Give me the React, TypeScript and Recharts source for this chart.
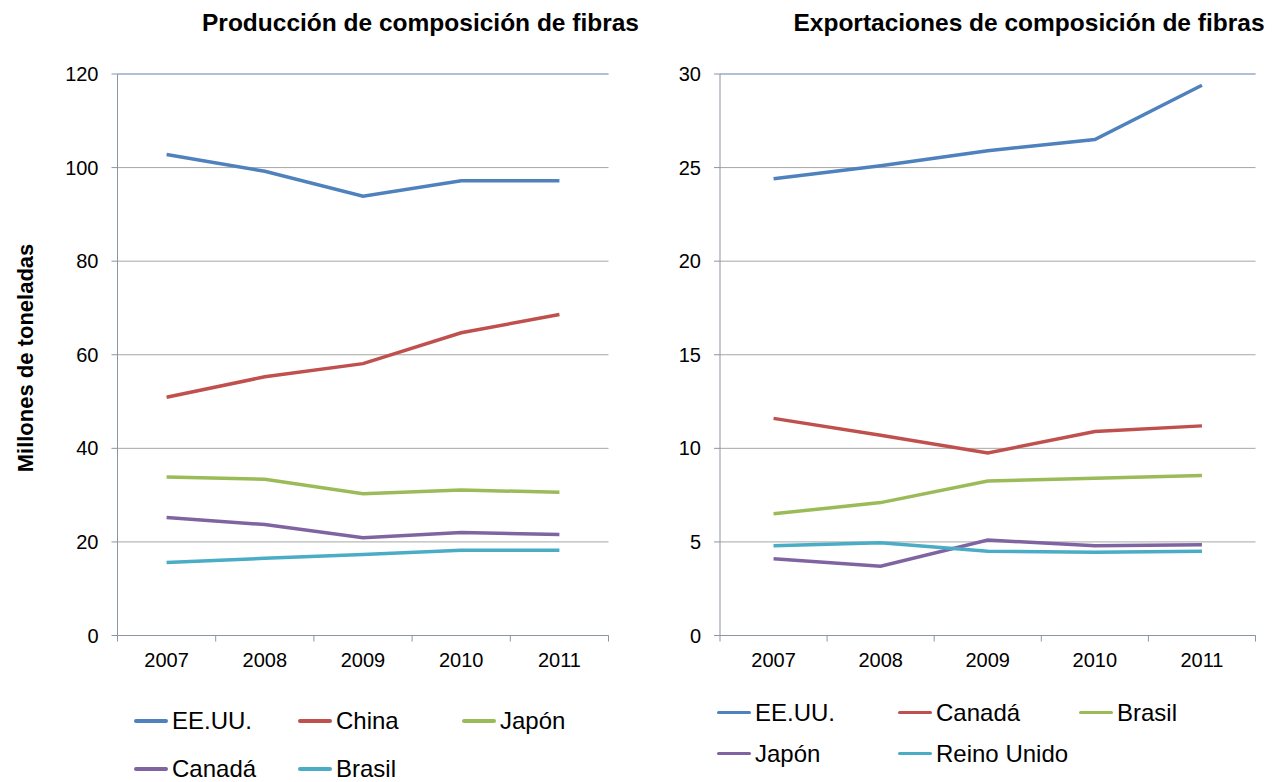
import React from 'react'
import { LineChart, Line, XAxis, YAxis, CartesianGrid, ReferenceLine } from 'recharts'

const years = ['2007', '2008', '2009', '2010', '2011']

// Producción (millones de toneladas)
const prodEEUU = [102.8, 99.2, 93.9, 97.2, 97.2]
const prodChina = [50.9, 55.3, 58.1, 64.7, 68.6]
const prodJapon = [33.9, 33.4, 30.3, 31.1, 30.6]
const prodCanada = [25.2, 23.7, 20.9, 22.0, 21.6]
const prodBrasil = [15.6, 16.5, 17.3, 18.2, 18.2]

// Exportaciones
const expEEUU = [24.4, 25.1, 25.9, 26.5, 29.4]
const expCanada = [11.6, 10.7, 9.75, 10.9, 11.2]
const expBrasil = [6.5, 7.1, 8.25, 8.4, 8.55]
const expJapon = [4.1, 3.7, 5.1, 4.8, 4.85]
const expReino = [4.8, 4.95, 4.5, 4.45, 4.5]

const prodTicks = [0, 20, 40, 60, 80, 100, 120]
const expTicks = [0, 5, 10, 15, 20, 25, 30]

const BLUE = '#4F81BD'
const RED = '#C0504D'
const GREEN = '#9BBB59'
const PURPLE = '#8064A2'
const CYAN = '#4BACC6'

const AXIS = '#8a95a5'
const GRID = '#a6a6a6'
const BORDER = '#8eaadb'
const FONT = '"Liberation Sans", Arial, sans-serif'

const prodSeries = [
  { name: 'EE.UU.', values: prodEEUU, color: BLUE },
  { name: 'China', values: prodChina, color: RED },
  { name: 'Japón', values: prodJapon, color: GREEN },
  { name: 'Canadá', values: prodCanada, color: PURPLE },
  { name: 'Brasil', values: prodBrasil, color: CYAN },
]

const expSeries = [
  { name: 'EE.UU.', values: expEEUU, color: BLUE },
  { name: 'Canadá', values: expCanada, color: RED },
  { name: 'Brasil', values: expBrasil, color: GREEN },
  { name: 'Japón', values: expJapon, color: PURPLE },
  { name: 'Reino Unido', values: expReino, color: CYAN },
]

type Series = { name: string; values: number[]; color: string }

const toRows = (series: Series[]) =>
  years.map((year, i) => {
    const row: Record<string, string | number> = { year }
    series.forEach(s => { row[s.name] = s.values[i] })
    return row
  })

function YearTick(props: any) {
  const { x, y, payload, index, band, count } = props
  return (
    <g>
      <line x1={x - band / 2} y1={y} x2={x - band / 2} y2={y + 6} stroke={AXIS} />
      {index === count - 1 && (
        <line x1={x + band / 2} y1={y} x2={x + band / 2} y2={y + 6} stroke={AXIS} />
      )}
      <text x={x} y={y + 17.5} dy="0.71em" textAnchor="middle" fontSize={20} fill="#000">
        {payload.value}
      </text>
    </g>
  )
}

interface PanelProps {
  series: Series[]
  ticks: number[]
  width: number
  marginLeft: number
  marginRight: number
}

function Panel({ series, ticks, width, marginLeft, marginRight }: PanelProps) {
  const plotW = width - marginLeft - marginRight - 60
  const band = plotW / years.length
  const top = ticks[ticks.length - 1]
  return (
    <LineChart
      width={width}
      height={690}
      data={toRows(series)}
      margin={{ top: 74, right: marginRight, left: marginLeft, bottom: 14.5 }}
    >
      <CartesianGrid vertical={false} stroke={GRID} yAxisId="l" />
      <XAxis
        dataKey="year"
        height={40}
        padding={{ left: band / 2, right: band / 2 }}
        stroke={AXIS}
        tickLine={false}
        tickSize={0}
        tickMargin={0}
        interval={0}
        tick={(p: any) => <YearTick {...p} band={band} count={years.length} />}
      />
      <YAxis
        yAxisId="l"
        width={60}
        domain={[0, top]}
        ticks={ticks}
        interval={0}
        stroke={AXIS}
        tickSize={6}
        tickMargin={13}
        tick={{ fontSize: 20, fill: '#000' }}
      />
      <YAxis
        yAxisId="r"
        orientation="right"
        width={0}
        domain={[0, top]}
        ticks={ticks}
        stroke={BORDER}
        tick={false}
        tickLine={false}
      />
      <ReferenceLine yAxisId="l" y={top} stroke={BORDER} />
      {series.map(s => (
        <Line
          key={s.name}
          yAxisId="l"
          type="linear"
          dataKey={s.name}
          stroke={s.color}
          strokeWidth={3.5}
          dot={false}
          activeDot={false}
          isAnimationActive={false}
        />
      ))}
    </LineChart>
  )
}

function LegendBlock({ series, left, top, colW, rowH }: { series: Series[]; left: number; top: number; colW: number; rowH: number }) {
  return (
    <div
      style={{
        position: 'absolute', left, top,
        display: 'grid', gridTemplateColumns: `repeat(3, ${colW}px)`, gridAutoRows: `${rowH}px`,
      }}
    >
      {series.map(s => (
        <div key={s.name} style={{ display: 'flex', alignItems: 'center' }}>
          <span style={{ width: 34, height: 3.5, background: s.color, borderRadius: 2, marginRight: 4 }} />
          <span style={{ fontSize: 24, color: '#000', whiteSpace: 'nowrap' }}>{s.name}</span>
        </div>
      ))}
    </div>
  )
}

const titleStyle = (center: number): React.CSSProperties => ({
  position: 'absolute', top: 11, left: center - 300, width: 600, textAlign: 'center',
  fontSize: 24.5, fontWeight: 'bold', lineHeight: '24px', whiteSpace: 'nowrap',
})

export default function App() {
  return (
    <div style={{ position: 'absolute', left: 0, top: 0, width: 1282, height: 782, background: '#fff', fontFamily: FONT, overflow: 'hidden' }}>
      <div style={titleStyle(420.5)}>Producción de composición de fibras</div>
      <div style={titleStyle(1029)}>Exportaciones de composición de fibras</div>

      <svg style={{ position: 'absolute', left: 0, top: 0 }} width={60} height={782}>
        <text x={33} y={358} transform="rotate(-90, 33, 358)" textAnchor="middle" fontSize={22} fontWeight="bold" fill="#000">
          Millones de toneladas
        </text>
      </svg>

      <div style={{ position: 'absolute', left: 0, top: 0 }}>
        <Panel series={prodSeries} ticks={prodTicks} width={640} marginLeft={57.5} marginRight={31.5} />
      </div>
      <div style={{ position: 'absolute', left: 640, top: 0 }}>
        <Panel series={expSeries} ticks={expTicks} width={642} marginLeft={20} marginRight={26.5} />
      </div>

      <LegendBlock series={prodSeries} left={134} top={697} colW={164} rowH={48} />
      <LegendBlock series={expSeries} left={717} top={692} colW={181} rowH={41} />
    </div>
  )
}
